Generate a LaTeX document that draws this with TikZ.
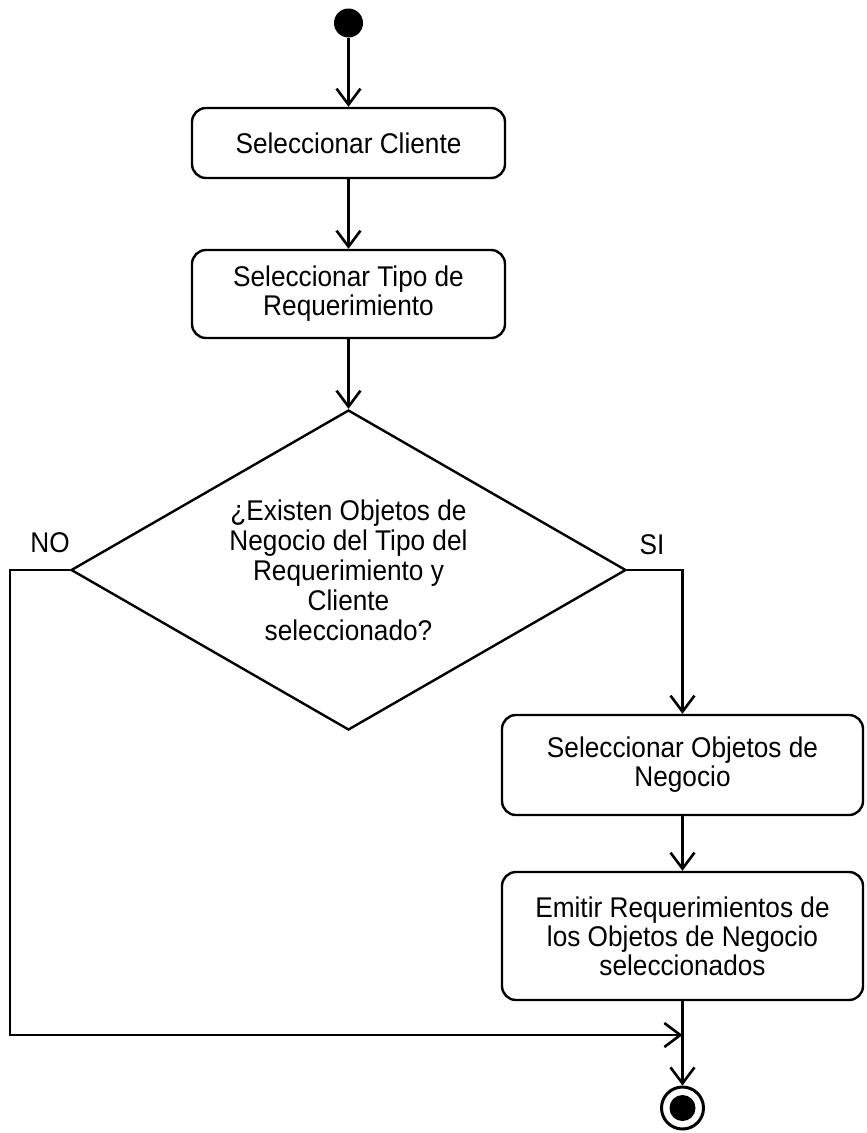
\documentclass[tikz,border=0pt]{standalone}
\usepackage{fontspec}
\setmainfont{Liberation Sans}
\newfontfamily\flowfont[FakeStretch=0.92]{Liberation Sans}
\usetikzlibrary{arrows.meta,shapes.geometric}
\begin{document}
\begin{tikzpicture}[x=1pt,y=-1pt,
  lbl/.style={font=\flowfont\fontsize{28.5}{29}\selectfont},
  action/.style={draw, line width=2.4pt, rounded corners=14pt, align=center,
                 inner sep=0pt, lbl},
  flow/.style={line width=2.6pt,
               -{Straight Barb[length=16pt,width=24pt,line width=2.6pt]}},
  decision/.style={draw, diamond, line width=2.4pt, aspect=1.73, inner sep=0pt,
                   align=center, font=\flowfont\fontsize{28.5}{30}\selectfont}]
\useasboundingbox (0,0) rectangle (867,1133);

% initial state
\node[circle, fill=black, minimum size=29pt, inner sep=0pt] (start) at (348.5,23) {};

% actions on the main line
\node[action, minimum width=313pt, minimum height=70pt] (cli) at (348.5,143)
  {Seleccionar Cliente};
\node[action, minimum width=313pt, minimum height=88pt] (tipo) at (348.5,294)
  {Seleccionar Tipo de\\Requerimiento};

% decision
\node[decision, minimum width=555pt, minimum height=320pt] (dec) at (348.5,570)
  {¿Existen Objetos de\\Negocio del Tipo del\\Requerimiento y\\Cliente\\seleccionado?};
\node[lbl] (no) at (50,543) {NO};
\node[lbl] (si) at (652,545) {SI};

% actions on the "SI" branch
\node[action, minimum width=361pt, minimum height=100pt] (obj) at (682.5,765)
  {Seleccionar Objetos de\\Negocio};
\node[action, minimum width=361pt, minimum height=128pt] (emit) at (682.5,936)
  {Emitir Requerimientos de\\los Objetos de Negocio\\seleccionados};

% final state
\node[circle, draw, line width=3pt, minimum size=42pt, inner sep=0pt] (stop) at (682.5,1108) {};
\node[circle, fill=black, minimum size=26pt, inner sep=0pt] (stopdot) at (stop.center) {};

% connectors
\coordinate (join) at (682.5,1035);
\draw[flow] (start) -- (cli);
\draw[flow] (cli) -- (tipo);
\draw[flow] (tipo) -- (dec.north);
\draw[flow] (dec.east) -| (obj.north);
\draw[flow] (obj) -- (emit);
\draw[flow] (dec.west) -- ++(-60,0) |- (join);
\draw[flow] (emit.south) -- (stop);
\end{tikzpicture}
\end{document}
